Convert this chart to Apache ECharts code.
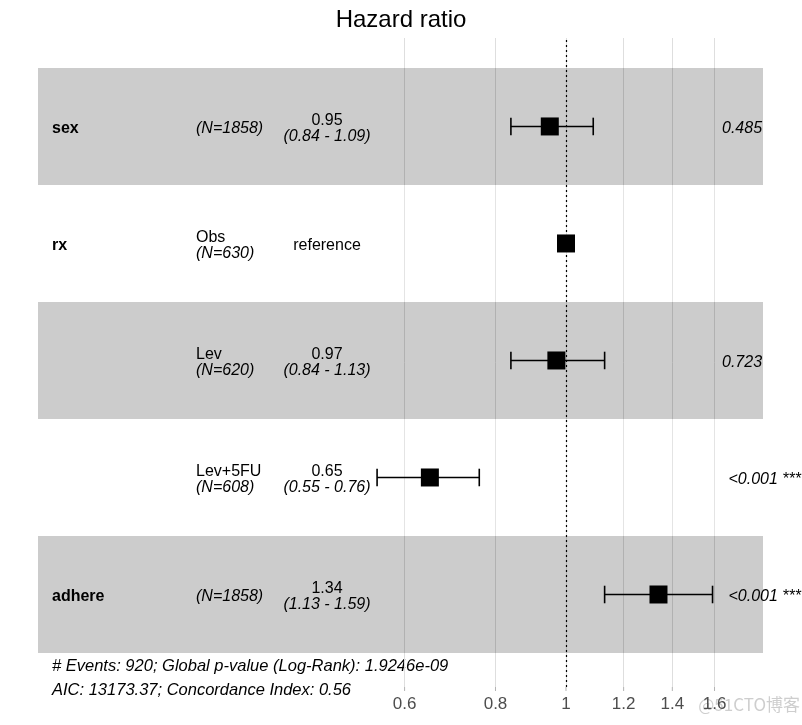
<!DOCTYPE html>
<html><head><meta charset="utf-8">
<script src="https://cdn.jsdelivr.net/npm/echarts@6/dist/echarts.min.js"></script>
<style>html,body{margin:0;padding:0;background:#fff}#c{width:802px;height:725px}</style>
</head><body><div id="c"></div>
<script>
// ---- data ----
const variables = ['sex', 'rx', '', '', 'adhere'];
const levels = ['', 'Obs', 'Lev', 'Lev+5FU', ''];
const nCounts = [1858, 630, 620, 608, 1858];
const hazardRatios = [0.95, 1, 0.97, 0.65, 1.34];
const hrLabels = ['0.95', 'reference', '0.97', '0.65', '1.34'];
const ciLower = [0.84, null, 0.84, 0.55, 1.13];
const ciUpper = [1.09, null, 1.13, 0.76, 1.59];
const ciLabels = ['(0.84 - 1.09)', '', '(0.84 - 1.13)', '(0.55 - 0.76)', '(1.13 - 1.59)'];
const pValues = ['0.485', '', '0.723', '<0.001 ***', '<0.001 ***'];
const xTickValues = [0.6, 0.8, 1, 1.2, 1.4, 1.6];
const xTickLabels = ['0.6', '0.8', '1', '1.2', '1.4', '1.6'];
const footerLines = ['# Events: 920; Global p-value (Log-Rank): 1.9246e-09', 'AIC: 13173.37; Concordance Index: 0.56'];
const chartTitle = 'Hazard ratio';

// ---- layout ----
const FONT = '"Liberation Sans", Arial, sans-serif';
const GRID_L = 38, GRID_R = 763, REF_PX = 566, PX_PER_LN = 316;
const pxToX = px => Math.exp((px - REF_PX) / PX_PER_LN);
const xMin = pxToX(GRID_L), xMax = pxToX(GRID_R);
const nRows = variables.length;
const rowY = i => nRows - i;
const yMin = 0.2094, yMax = 5.756;
const capHalf = 0.075;
const LH = 16;
const TOFF = [0, 2];

const ctx = document.createElement('canvas').getContext('2d');
ctx.font = 'italic 16px ' + FONT;
const textW = s => ctx.measureText(s).width;

const chart = echarts.init(document.getElementById('c'), null, {renderer: 'canvas'});

// bands
const bandData = [];
for (let i = 0; i < nRows; i++) {
  bandData.push([
    {xAxis: xMin, yAxis: rowY(i) + 0.5, itemStyle: {color: i % 2 === 0 ? 'rgba(0,0,0,0.2)' : 'rgba(255,255,255,0.2)'}},
    {xAxis: xMax, yAxis: rowY(i) - 0.5}
  ]);
}

const textBase = {color: '#000', fontFamily: FONT, fontSize: 16, opacity: 1};

const varData = variables.map((v, i) => ({
  value: [pxToX(52), rowY(i)],
  label: {show: v !== '', formatter: v, position: 'right', distance: 0, offset: TOFF, fontWeight: 'bold', ...textBase}
}));

const levelData = levels.map((lv, i) => ({
  value: [pxToX(196), rowY(i)],
  label: {
    show: true, position: 'right', distance: 0, offset: TOFF, ...textBase, lineHeight: LH,
    formatter: (lv ? '{a|' + lv + '}\n' : '') + '{b|(N=' + nCounts[i] + ')}',
    rich: {a: {fontFamily: FONT, fontSize: 16, color: '#000', lineHeight: LH},
           b: {fontFamily: FONT, fontSize: 16, color: '#000', fontStyle: 'italic', lineHeight: LH}}
  }
}));

const hrData = hrLabels.map((h, i) => ({
  value: [pxToX(327), rowY(i)],
  label: {
    show: true, position: 'inside', align: 'center', offset: TOFF, ...textBase, lineHeight: LH,
    formatter: ciLabels[i] ? '{a|' + h + '}\n{b|' + ciLabels[i] + '}' : '{a|' + h + '}',
    rich: {a: {fontFamily: FONT, fontSize: 16, color: '#000', lineHeight: LH, align: 'center'},
           b: {fontFamily: FONT, fontSize: 16, color: '#000', fontStyle: 'italic', lineHeight: LH, align: 'center'}}
  }
}));

const pData = pValues.map((p, i) => ({
  value: [pxToX(714), rowY(i)],
  label: {show: p !== '', formatter: p, position: 'right', distance: 0.2 * textW(p), offset: TOFF, fontStyle: 'italic', ...textBase}
}));

const errData = [];
hazardRatios.forEach((h, i) => {
  if (ciLower[i] != null) errData.push([rowY(i), ciLower[i], ciUpper[i]]);
});

const hidden = {color: 'transparent', opacity: 1};

const option = {
  animation: false,
  backgroundColor: '#fff',
  title: {text: chartTitle, left: 'center', top: 3,
    textStyle: {fontFamily: FONT, fontSize: 24, fontWeight: 'normal', color: '#000'}},
  grid: {left: GRID_L, right: 802 - GRID_R, top: 38, bottom: 38, containLabel: false},
  xAxis: {type: 'log', logBase: 10, min: xMin, max: xMax,
    axisLine: {show: false}, axisTick: {show: false}, axisLabel: {show: false}, splitLine: {show: false}},
  yAxis: {type: 'value', min: yMin, max: yMax, show: false, splitLine: {show: false}},
  graphic: [
    {type: 'text', left: 52, top: 658, style: {text: footerLines[0], font: 'italic 16.5px ' + FONT, fill: '#000'}},
    {type: 'text', left: 52, top: 682, style: {text: footerLines[1], font: 'italic 16.5px ' + FONT, fill: '#000'}},
    {type: 'text', right: 2, top: 696, style: {text: '@51CTO博客', font: '17px "Noto Sans CJK SC", sans-serif', fill: 'rgba(190,190,190,0.75)'}}
  ],
  series: [
    { // grid lines
      type: 'scatter', data: [], silent: true,
      markLine: {silent: true, symbol: 'none', z: 0, animation: false,
        lineStyle: {color: '#dedede', width: 1, type: 'solid'}, label: {show: false},
        data: xTickValues.map(v => ({xAxis: v}))}
    },
    { // bands
      type: 'scatter', data: [], silent: true,
      markArea: {silent: true, z: 1, data: bandData}
    },
    { // reference line
      type: 'scatter', data: [], silent: true, z: 4,
      markLine: {silent: true, symbol: 'none', z: 4, animation: false,
        lineStyle: {color: '#000', width: 1.2, type: [2, 3]}, label: {show: false},
        data: [{xAxis: 1}]}
    },
    { // axis ticks
      type: 'scatter', silent: true, z: 3,
      symbol: 'rect', symbolSize: [1, 4], symbolOffset: [0, 2],
      itemStyle: {color: '#b3b3b3', opacity: 1},
      data: xTickValues.map(v => [v, yMin])
    },
    { // tick labels
      type: 'scatter', silent: true, symbolSize: 0, itemStyle: hidden,
      data: xTickValues.map((v, i) => ({value: [v, yMin],
        label: {show: true, formatter: xTickLabels[i], position: 'bottom', distance: 9,
          fontFamily: FONT, fontSize: 17, color: '#4d4d4d'}}))
    },
    { // error bars
      type: 'custom', silent: true, z: 5,
      encode: {x: [1, 2], y: 0},
      data: errData,
      renderItem: function (params, api) {
        const y = api.value(0), lo = api.value(1), hi = api.value(2);
        const p1 = api.coord([lo, y]), p2 = api.coord([hi, y]);
        const yt = api.coord([lo, y + capHalf])[1], yb = api.coord([lo, y - capHalf])[1];
        const st = {stroke: '#000', lineWidth: 1.6, fill: null};
        return {type: 'group', children: [
          {type: 'line', shape: {x1: p1[0], y1: p1[1], x2: p2[0], y2: p2[1]}, style: st},
          {type: 'line', shape: {x1: p1[0], y1: yt, x2: p1[0], y2: yb}, style: st},
          {type: 'line', shape: {x1: p2[0], y1: yt, x2: p2[0], y2: yb}, style: st}
        ]};
      }
    },
    { // points
      type: 'scatter', silent: true, z: 6, symbol: 'rect', symbolSize: 18,
      itemStyle: {color: '#000', opacity: 1},
      data: hazardRatios.map((h, i) => [h, rowY(i)])
    },
    {type: 'scatter', silent: true, z: 7, symbolSize: 0, itemStyle: hidden, data: varData},
    {type: 'scatter', silent: true, z: 7, symbolSize: 0, itemStyle: hidden, data: levelData},
    {type: 'scatter', silent: true, z: 7, symbolSize: 0, itemStyle: hidden, data: hrData},
    {type: 'scatter', silent: true, z: 7, symbolSize: 0, itemStyle: hidden, data: pData}
  ]
};
chart.setOption(option);
</script>
</body></html>
